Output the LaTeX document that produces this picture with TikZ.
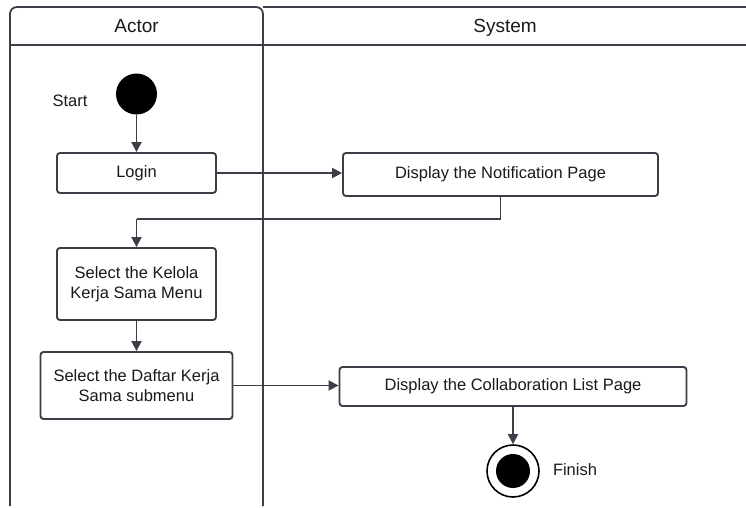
\documentclass[tikz,border=0pt]{standalone}
\usepackage{fontspec}
\setmainfont{Liberation Sans}
\usetikzlibrary{arrows.meta}
\definecolor{linegray}{HTML}{3B3E46}
\definecolor{inkgray}{HTML}{1A1A1A}
\tikzset{
  lane/.style={draw=linegray, line width=1.8pt},
  action/.style={draw=linegray, line width=1.9pt, rounded corners=3pt, fill=white,
    text=inkgray, align=center, inner sep=0pt,
    font=\fontsize{16.5}{20}\selectfont},
  label/.style={text=inkgray, inner sep=0pt, anchor=base, font=\fontsize{16.5}{20}\selectfont},
  header/.style={text=inkgray, inner sep=0pt, anchor=base, font=\fontsize{19}{22}\selectfont},
  flow/.style={draw=linegray, line width=1.9pt, -{Triangle[length=10pt,width=10pt]}},
  plain/.style={draw=linegray, line width=1.9pt},
  initial/.style={circle, fill=black, minimum size=41pt, inner sep=0pt},
  final/.style={circle, draw=black, line width=1.6pt, fill=white, minimum size=52pt, inner sep=0pt},
  finaldot/.style={circle, fill=black, minimum size=34pt, inner sep=0pt},
}
\begin{document}
\begin{tikzpicture}[x=1pt, y=-1pt]
  \useasboundingbox[fill=white] (0,0) rectangle (746,507);

  % swimlanes
  \draw[lane, rounded corners=7pt] (10,506) -- (10,7) -- (263,7) -- (263,506);
  \draw[lane] (263,7) -- (746,7);
  \draw[lane] (10,45) -- (746,45);
  \node[header] (actorhead) at (136.5,32) {Actor};
  \node[header] (systemhead) at (505,32) {System};

  % start node
  \node[initial] (start) at (136.5,94) {};
  \node[label] (starttxt) at (70,106) {Start};

  % actions
  \node[action, minimum width=159pt, minimum height=40pt] (login) at (136.5,173) {Login};
  \node[action, minimum width=315pt, minimum height=43pt] (notif) at (500.5,174.5) {Display the Notification Page};
  \node[action, minimum width=159pt, minimum height=72pt] (kelola) at (136.5,284) {Select the Kelola\\Kerja Sama Menu};
  \node[action, minimum width=192pt, minimum height=67pt] (daftar) at (136.5,385.5) {Select the Daftar Kerja\\Sama submenu};
  \node[action, minimum width=347pt, minimum height=39pt] (collab) at (513,386.5) {Display the Collaboration List Page};

  % final node
  \node[final] (finish) at (513,471) {};
  \node[finaldot] (finishdot) at (finish.center) {};
  \node[label] (finishtxt) at (575,475) {Finish};

  % flows
  \coordinate (bend) at (300,219);
  \draw[flow] (start.south) -- (login.north);
  \draw[flow] (login.east) -- (login.east -| notif.west);
  \draw[plain] (notif.south) -- (notif.south |- bend) -- (kelola.north |- bend);
  \draw[flow] (kelola.north |- bend) -- (kelola.north);
  \draw[flow] (kelola.south) -- (daftar.north);
  \draw[flow] (daftar.east) -- (daftar.east -| collab.west);
  \draw[flow] (collab.south) -- (finish.north);
\end{tikzpicture}
\end{document}
